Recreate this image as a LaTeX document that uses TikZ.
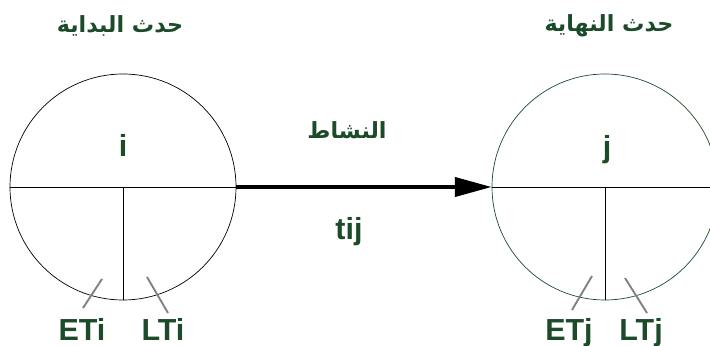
\documentclass[tikz,border=0pt]{standalone}
\usepackage{fontspec}
\setmainfont{Liberation Sans}
\newfontfamily\arabicfont[Script=Arabic]{DejaVu Sans}
\TeXXeTstate=1
\usetikzlibrary{arrows.meta}
\definecolor{evgreen}{HTML}{1C4B2A}

\begin{document}
\begin{tikzpicture}[x=0.03cm,y=-0.03cm]
  \tikzset{
    evt/.style={circle, draw=black, line width=0.6pt, minimum size=6.78cm, inner sep=0pt},
    div/.style={draw=black, line width=0.6pt},
    act/.style={-{Triangle[length=1.1cm, width=0.57cm]}, black, line width=3.2pt},
    ptr/.style={draw=black!50, line width=1.6pt},
    lbl/.style={font=\fontsize{26}{28}\selectfont\bfseries, text=evgreen, inner sep=0pt, anchor=base},
    ar/.style={font=\arabicfont\fontsize{19}{23}\selectfont\bfseries, text=evgreen, inner sep=0pt}
  }
  \useasboundingbox (0,0) rectangle (710,346);
  \clip (0,0) rectangle (710,346);

  % - Start event ---
  \node[evt] (evi) at (123,187) {};
  \draw[div] (evi.west) -- (evi.east);
  \draw[div] (evi.center) -- (evi.south);
  \node[ar] (ti) at (120,26) {\beginR حدث البداية\endR};
  \node[lbl] (ni) at (123,157) {i};
  \node[lbl] (eti) at (82,340) {ETi};
  \node[lbl] (lti) at (163,340) {LTi};

  % - End event ---
  \node[evt, draw=evgreen] (evj) at (605,187) {};
  \draw[div] (evj.west) -- (evj.east);
  \draw[div] (evj.center) -- (evj.south);
  \node[ar] (tj) at (609,26) {\beginR حدث النهاية\endR};
  \node[lbl] (nj) at (607,158) {j};
  \node[lbl] (etj) at (569,340) {ETj};
  \node[lbl] (ltj) at (641,340) {LTj};

  % - Activity ---
  \draw[act] (evi.east) -- (evj.west);
  \node[ar] (act) at (347,130) {\beginR النشاط\endR};
  \node[lbl] (tij) at (349,240) {tij};

  % - Pointers ---
  \coordinate (eti-a) at (102,279); \coordinate (eti-b) at (83,308);
  \coordinate (lti-a) at (147,277); \coordinate (lti-b) at (168,313);
  \coordinate (etj-a) at (592,276); \coordinate (etj-b) at (572,310);
  \coordinate (ltj-a) at (625,278); \coordinate (ltj-b) at (647,313);
  \draw[ptr] (eti-a) -- (eti-b);
  \draw[ptr] (lti-a) -- (lti-b);
  \draw[ptr] (etj-a) -- (etj-b);
  \draw[ptr] (ltj-a) -- (ltj-b);

\end{tikzpicture}
\end{document}
